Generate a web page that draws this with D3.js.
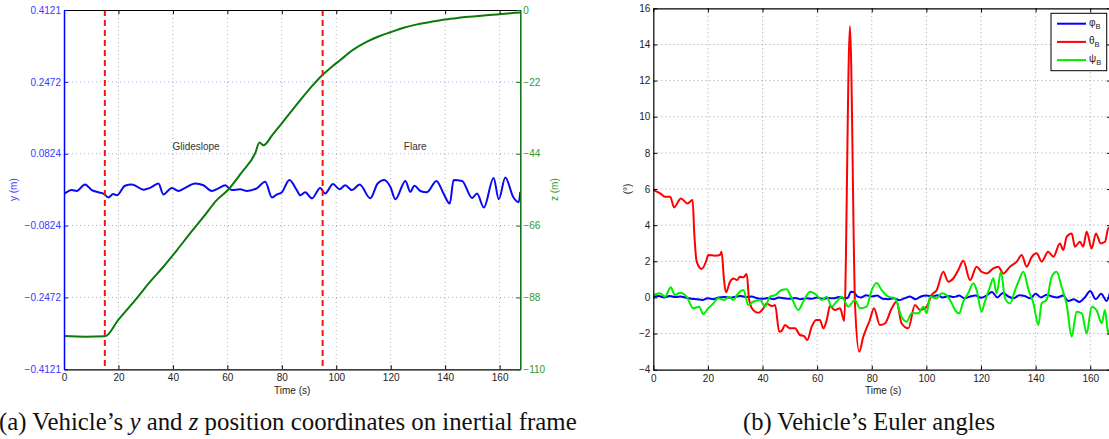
<!DOCTYPE html>
<html><head><meta charset="utf-8">
<script src="https://cdn.jsdelivr.net/npm/d3@7"></script>
<style>
body{margin:0;background:#fff;}
svg{display:block;font-family:"Liberation Sans",Arial,sans-serif;}
</style></head><body>
<svg id="chart" width="1109" height="439"></svg>
<script>
// ---- shared time ticks ----
const timeTicks = [0, 20, 40, 60, 80, 100, 120, 140, 160];

// ---- panel (a): lateral position y and altitude z ----
const yTickValues = [-0.4121, -0.2472, -0.0824, 0.0824, 0.2472, 0.4121];
const yTickLabels = ["\u22120.4121", "\u22120.2472", "\u22120.0824", "0.0824", "0.2472", "0.4121"];
const zTickValues = [0, -22, -44, -66, -88, -110];
const zTickLabels = ["0", "\u221222", "\u221244", "\u221266", "\u221288", "\u2212110"];
const phaseBounds = [15, 95];
const phaseNames = ["Glideslope", "Flare"];

const yTime = [0.4, 2.8, 4.7, 7.7, 10.2, 12.6, 14.5, 16.3, 18.1, 19.4, 22.4, 24.9, 29.2, 31.6, 34.7, 36.5, 39.6, 42, 44.5, 48.2, 51.2, 54.3, 56.7, 59.2, 61.6, 64.7, 67.2, 70.8, 73.9, 76.4, 78.2, 80, 82.8, 85.5, 86.8, 88.6, 91.1, 94.1, 95.9, 98.8, 101.2, 103.3, 105.8, 108.6, 112.5, 115.2, 117.6, 119.9, 121.7, 125.4, 127.2, 128.7, 130.9, 133.3, 136.8, 139.4, 141.7, 143.1, 146.2, 149.9, 151.7, 154.2, 157.8, 159.7, 162.1, 165, 167, 167.6];
const yPos = [-0.009, -0.001, -0.003, 0.012, -0.001, -0.006, -0.009, -0.018, -0.010, -0.013, 0.009, 0.012, 0.000, 0.004, 0.014, -0.011, 0.004, -0.003, 0.004, 0.014, 0.010, -0.003, 0.003, 0.010, -0.001, 0.001, -0.003, 0.003, 0.018, -0.018, -0.011, -0.006, 0.022, -0.001, -0.013, -0.006, -0.020, 0.004, -0.009, 0.013, 0.001, 0.010, -0.001, 0.012, -0.020, 0.014, 0.022, 0.006, -0.022, 0.020, -0.005, 0.009, -0.003, -0.006, 0.020, -0.009, -0.032, 0.022, 0.020, -0.019, -0.009, -0.041, 0.027, -0.022, 0.028, -0.017, -0.029, -0.005];

const zTime = [0, 8, 15.1, 20, 26.7, 31.5, 36.5, 41.5, 46.3, 51, 56.1, 60.1, 65, 70.2, 71.8, 73.3, 76.5, 80, 86.8, 91, 95.3, 98.5, 101.5, 106, 111.3, 115.5, 119.9, 124.5, 129.7, 135, 140, 145, 149.9, 155, 160, 164, 167.6];
const zPos = [-99.8, -100.0, -99.9, -94.8, -88.3, -83.3, -78.6, -73.5, -68.4, -63.6, -58.2, -55.2, -50.0, -43.9, -40.6, -41.4, -38.3, -34.7, -27.6, -23.4, -19.6, -17.3, -15.3, -12.3, -9.7, -8.1, -6.8, -5.5, -4.4, -3.6, -2.9, -2.4, -2.0, -1.6, -1.3, -1.0, -0.8];

// ---- panel (b): Euler angles in degrees ----
const eulerTicks = [-4, -2, 0, 2, 4, 6, 8, 10, 12, 14, 16];
const seriesNames = ["\u03c6", "\u03b8", "\u03c8"];

const phiTime = [0, 2, 4, 6, 8, 10, 12, 14, 16, 18, 20, 22, 24, 26, 28, 30, 32, 34, 36, 38, 40, 42, 44, 46, 48, 50, 52, 54, 56, 58, 60, 62, 64, 66, 68, 70, 71.2, 72.4, 73.4, 74.5, 76, 78, 80, 82, 84, 86, 88, 90, 92, 94, 96, 98, 100, 102, 104, 106, 108, 110, 112, 114, 116, 118, 120, 122, 124, 126, 128, 130, 132, 134, 136, 138, 140, 142, 144, 146, 148, 150, 152, 154, 156, 158, 160, 162, 164, 166, 167.6];
const phi = [0.05, 0.08, 0.0, 0.08, 0.02, 0.05, -0.02, -0.08, -0.1, -0.14, -0.05, -0.1, 0.0, 0.03, -0.02, 0.04, 0.08, 0.02, 0.05, -0.05, -0.08, -0.03, -0.1, 0.0, -0.05, -0.08, -0.03, -0.1, -0.05, -0.08, 0.0, -0.08, -0.03, -0.05, 0.02, -0.05, -0.02, 0.32, 0.3, 0.08, 0.0, 0.12, 0.05, 0.1, -0.08, -0.1, -0.05, -0.15, -0.05, 0.05, -0.1, 0.05, 0.1, 0.05, 0.12, 0.0, 0.08, 0.02, 0.1, -0.05, 0.05, 0.1, -0.02, 0.1, 0.3, 0.0, 0.25, 0.05, -0.05, 0.12, 0.08, -0.05, 0.2, 0.0, 0.15, 0.05, 0.0, 0.1, -0.2, -0.1, -0.25, 0.0, 0.35, -0.1, 0.2, -0.2, 0.55];

const thetaTime = [0, 2.5, 4.3, 6.2, 7.6, 10.1, 12.5, 14.4, 15.0, 15.9, 17.7, 19.5, 20.1, 22.6, 24.4, 25.0, 25.9, 26.6, 28.1, 29.3, 30.7, 31.7, 33, 34.2, 35.1, 36.6, 38.4, 40.3, 41.5, 43.4, 44.6, 46.1, 47, 48.2, 50.1, 51.9, 53.7, 55.2, 56.4, 58, 59.6, 61.0, 62.3, 63.5, 64.7, 66.5, 68.4, 69.9, 72.0, 73.9, 75.4, 76.9, 79.3, 80.8, 83, 84.9, 87.3, 89.1, 90.9, 93.4, 95.8, 97.7, 100.1, 101.9, 103.8, 106.2, 108, 109.9, 111.7, 113.5, 116, 118.4, 120.2, 122.1, 124.5, 126.3, 128.2, 130.6, 133.1, 134.9, 136.7, 138.6, 140.4, 142.2, 144.6, 146.5, 148.9, 150.1, 151.4, 153.2, 154.4, 156.2, 157.4, 158.7, 160.5, 162.1, 163.8, 165.4, 166.6, 167.6];
const theta = [5.94, 5.76, 5.57, 5.57, 4.98, 5.48, 5.2, 5.39, 3.55, 1.98, 1.57, 2.07, 2.35, 2.31, 2.35, 2.53, 0.96, 0.28, 0.87, 1.05, 0.96, 1.15, 1.11, 1.3, -0.14, -0.7, -0.85, -0.6, -0.33, -0.48, -0.42, -1.9, -1.85, -1.53, -1.71, -1.71, -2.08, -2.14, -2.36, -1.62, -1.25, -1.25, -1.71, -1.25, -0.48, -0.7, -0.6, -1.3, 15.0, -0.5, -3.0, -2.17, -1.25, -0.6, -1.53, -1.43, -0.6, -0.24, -1.43, -1.71, -0.42, -0.7, -0.51, 0.13, 0.41, 1.42, 0.87, 1.06, 1.52, 2.03, 0.96, 1.7, 1.42, 1.33, 1.61, 1.7, 1.33, 1.7, 1.98, 2.35, 1.7, 2.25, 2.44, 1.98, 2.53, 2.25, 2.99, 2.62, 3.36, 3.54, 2.81, 3.08, 2.81, 3.64, 2.71, 3.54, 2.99, 3.08, 3.82, 3.9];

const psiTime = [0, 2.4, 4.3, 6.4, 7.9, 9.8, 12.2, 14.6, 16.8, 18.3, 20.1, 22.0, 23.8, 25.9, 27.8, 29.3, 31.1, 33, 34.8, 36.6, 39.1, 40.9, 42.7, 44.6, 47.0, 48.8, 50.7, 53.1, 54.9, 57.4, 59.8, 61.7, 63.5, 65.3, 67.1, 69, 71.4, 73.8, 75.7, 78.1, 80, 81.8, 83.6, 86.1, 88.5, 90.9, 92.8, 94.6, 97.0, 98.9, 100.1, 101.3, 103.8, 105.6, 107.4, 109.3, 110.5, 112, 113.5, 115.3, 117.2, 118.4, 120.2, 121.4, 123.3, 124.5, 125.7, 127.3, 128.8, 130.6, 132.5, 133.7, 135.5, 137.4, 139.2, 141, 142.2, 144, 145.9, 147.7, 149.5, 151.4, 153.2, 155, 156.9, 158.7, 160.5, 162.3, 164.2, 165.4, 166.6, 167.6];
const psi = [0.13, 0.23, 0.04, 0.56, 0.13, 0.26, 0.04, -0.6, -0.51, -0.92, -0.6, -0.33, -0.05, -0.14, 0.04, -0.14, 0.23, 0.41, -0.42, -0.24, -0.14, -0.51, 0.04, 0.13, 0.41, 0.45, -0.05, -0.7, -0.24, 0.32, 0.13, -0.14, 0.04, -0.51, -0.24, 0.04, -0.51, -0.14, -0.6, -0.51, 0.41, 0.8, 0.41, 0.04, -0.05, -1.07, -1.34, -0.88, -0.88, -0.51, -0.88, 0.04, -0.05, 0.23, 0.13, -0.33, -0.7, -0.88, -0.24, 0.23, 0.78, 0.41, -0.79, -0.24, 0.59, 1.06, 0.23, 1.42, -0.05, -0.33, 0.41, 0.87, 1.42, 0.41, -0.33, -1.53, -0.33, -0.14, 1.15, 1.42, 0.59, -0.42, -2.17, -0.79, -0.88, -1.99, -0.51, -0.7, -1.43, -0.7, -1.99, -1.2];

const svg = d3.select("#chart");
const tickFont = 10;

// ================= panel (a) =================
const A = {left: 64, right: 520.3, top: 10, bottom: 369.3};
const xA = d3.scaleLinear().domain([0, 167.6]).range([A.left, A.right]);
const yA = d3.scaleLinear().domain([-0.4121, 0.4121]).range([A.bottom, A.top]);
const zA = d3.scaleLinear().domain([-110, 0]).range([A.bottom, A.top]);
const blueAxis = "#0000ff", blueText = "#3a3aff";
const greenAxis = "#0d6b0d", greenText = "#2f9a2f";

const gA = svg.append("g");
svg.append("defs").append("clipPath").attr("id", "clipA")
  .append("rect").attr("x", A.left).attr("y", A.top)
  .attr("width", A.right - A.left).attr("height", A.bottom - A.top);

// grid
gA.append("g").selectAll("line").data(timeTicks.filter(t => t > 0)).join("line")
  .attr("x1", d => xA(d)).attr("x2", d => xA(d)).attr("y1", A.top).attr("y2", A.bottom)
  .attr("stroke", "#9a9a9a").attr("stroke-width", 0.8).attr("stroke-dasharray", "1,3");
gA.append("g").selectAll("line").data(yTickValues.slice(1, -1)).join("line")
  .attr("x1", A.left).attr("x2", A.right).attr("y1", d => yA(d)).attr("y2", d => yA(d))
  .attr("stroke", "#8c8cf5").attr("stroke-width", 0.8).attr("stroke-dasharray", "1,3");

// series
const lineY = d3.line().x((d, i) => xA(yTime[i])).y(d => yA(d)).curve(d3.curveMonotoneX);
const lineZ = d3.line().x((d, i) => xA(zTime[i])).y(d => zA(d)).curve(d3.curveMonotoneX);
gA.append("path").attr("clip-path", "url(#clipA)").datum(yPos).attr("d", lineY)
  .attr("fill", "none").attr("stroke", "#0a0af0").attr("stroke-width", 2);
gA.append("path").attr("clip-path", "url(#clipA)").datum(zPos).attr("d", lineZ)
  .attr("fill", "none").attr("stroke", "#0b7a0b").attr("stroke-width", 2);

// phase boundaries
gA.append("g").selectAll("line").data(phaseBounds).join("line")
  .attr("x1", d => xA(d)).attr("x2", d => xA(d)).attr("y1", A.top).attr("y2", A.bottom)
  .attr("stroke", "#ff1010").attr("stroke-width", 2).attr("stroke-dasharray", "6,4");

// phase names
gA.append("g").selectAll("text").data(phaseNames).join("text")
  .attr("x", (d, i) => xA(i === 0 ? 48.5 : 129))
  .attr("y", yA(0.0907))
  .attr("text-anchor", "middle").attr("font-size", 10).attr("fill", "#333")
  .text(d => d);

// axes
const axAb = d3.axisBottom(xA).tickValues(timeTicks).tickFormat(d3.format("d")).tickSizeInner(-4).tickSizeOuter(0).tickPadding(5);
const gAb = gA.append("g").attr("transform", `translate(0,${A.bottom})`).call(axAb);
const axAt = d3.axisTop(xA).tickValues(timeTicks).tickFormat("").tickSizeInner(-4).tickSizeOuter(0);
const gAt = gA.append("g").attr("transform", `translate(0,${A.top})`).call(axAt);
[gAb, gAt].forEach(g => {
  g.select(".domain").attr("stroke", "#000").attr("stroke-width", 1.2);
  g.selectAll(".tick line").attr("stroke", "#000");
  g.selectAll("text").attr("fill", "#222").attr("font-size", tickFont).attr("font-family", "Liberation Sans, Arial, sans-serif");
});
const axAl = d3.axisLeft(yA).tickValues(yTickValues).tickFormat((d, i) => yTickLabels[i]).tickSizeInner(-4).tickSizeOuter(0).tickPadding(3);
const gAl = gA.append("g").attr("transform", `translate(${A.left},0)`).call(axAl);
gAl.select(".domain").attr("stroke", blueAxis).attr("stroke-width", 1.5);
gAl.selectAll(".tick line").attr("stroke", blueAxis);
gAl.selectAll("text").attr("fill", blueText).attr("font-size", tickFont).attr("font-family", "Liberation Sans, Arial, sans-serif");
const axAr = d3.axisRight(zA).tickValues(zTickValues).tickFormat((d, i) => zTickLabels[i]).tickSizeInner(-4).tickSizeOuter(0).tickPadding(3);
const gAr = gA.append("g").attr("transform", `translate(${A.right},0)`).call(axAr);
gAr.select(".domain").attr("stroke", greenAxis).attr("stroke-width", 1.5);
gAr.selectAll(".tick line").attr("stroke", greenAxis);
gAr.selectAll("text").attr("fill", greenText).attr("font-size", tickFont).attr("font-family", "Liberation Sans, Arial, sans-serif");

// axis titles
gA.append("text").attr("transform", `translate(17,${(A.top + A.bottom) / 2}) rotate(-90)`)
  .attr("text-anchor", "middle").attr("font-size", 10).attr("fill", blueText).text("y (m)");
gA.append("text").attr("transform", `translate(558,${(A.top + A.bottom) / 2}) rotate(-90)`)
  .attr("text-anchor", "middle").attr("font-size", 10).attr("fill", greenText).text("z (m)");
gA.append("text").attr("x", (A.left + A.right) / 2).attr("y", 394)
  .attr("text-anchor", "middle").attr("font-size", 10).attr("fill", "#222").text("Time (s)");

// ================= panel (b) =================
const B = {left: 653.3, right: 1111, top: 8.3, bottom: 369.7};
const xB = d3.scaleLinear().domain([0, 167.6]).range([B.left, B.right]);
const yB = d3.scaleLinear().domain([-4, 16]).range([B.bottom, B.top]);
const gB = svg.append("g");
svg.select("defs").append("clipPath").attr("id", "clipB")
  .append("rect").attr("x", B.left).attr("y", B.top)
  .attr("width", B.right - B.left).attr("height", B.bottom - B.top);

gB.append("g").selectAll("line").data(timeTicks.filter(t => t > 0)).join("line")
  .attr("x1", d => xB(d)).attr("x2", d => xB(d)).attr("y1", B.top).attr("y2", B.bottom)
  .attr("stroke", "#8a8a8a").attr("stroke-width", 0.8).attr("stroke-dasharray", "1,3");
gB.append("g").selectAll("line").data(eulerTicks.slice(1, -1)).join("line")
  .attr("x1", B.left).attr("x2", B.right).attr("y1", d => yB(d)).attr("y2", d => yB(d))
  .attr("stroke", "#8a8a8a").attr("stroke-width", 0.8).attr("stroke-dasharray", "1,3");

const eulerSeries = [
  {t: phiTime, v: phi, color: "#0000ff"},
  {t: thetaTime, v: theta, color: "#ff0000"},
  {t: psiTime, v: psi, color: "#00ee00"}
];
eulerSeries.forEach(s => {
  const ln = d3.line().x((d, i) => xB(s.t[i])).y(d => yB(d)).curve(d3.curveMonotoneX);
  gB.append("path").attr("clip-path", "url(#clipB)").datum(s.v).attr("d", ln)
    .attr("fill", "none").attr("stroke", s.color).attr("stroke-width", 2);
});

const axBb = d3.axisBottom(xB).tickValues(timeTicks).tickFormat(d3.format("d")).tickSizeInner(-4).tickSizeOuter(0).tickPadding(5);
const gBb = gB.append("g").attr("transform", `translate(0,${B.bottom})`).call(axBb);
const axBt = d3.axisTop(xB).tickValues(timeTicks).tickFormat("").tickSizeInner(-4).tickSizeOuter(0);
const gBt = gB.append("g").attr("transform", `translate(0,${B.top})`).call(axBt);
const axBl = d3.axisLeft(yB).tickValues(eulerTicks).tickFormat(d => d < 0 ? "\u2212" + Math.abs(d) : d).tickSizeInner(-4).tickSizeOuter(0).tickPadding(3);
const gBl = gB.append("g").attr("transform", `translate(${B.left},0)`).call(axBl);
const axBr = d3.axisRight(yB).tickValues(eulerTicks).tickFormat("").tickSizeInner(-4).tickSizeOuter(0);
const gBr = gB.append("g").attr("transform", `translate(${B.right},0)`).call(axBr);
[gBb, gBt, gBl, gBr].forEach(g => {
  g.select(".domain").attr("stroke", "#000").attr("stroke-width", 1.2);
  g.selectAll(".tick line").attr("stroke", "#000");
  g.selectAll("text").attr("fill", "#222").attr("font-size", tickFont).attr("font-family", "Liberation Sans, Arial, sans-serif");
});

gB.append("text").attr("transform", `translate(631,${(B.top + B.bottom) / 2}) rotate(-90)`)
  .attr("text-anchor", "middle").attr("font-size", 10).attr("fill", "#222").text("(\u00b0)");
gB.append("text").attr("x", (B.left + B.right) / 2 + 1).attr("y", 394)
  .attr("text-anchor", "middle").attr("font-size", 10).attr("fill", "#222").text("Time (s)");

// legend
const leg = gB.append("g");
leg.append("rect").attr("x", 1051).attr("y", 13.3).attr("width", 55.7).attr("height", 57.4)
  .attr("fill", "#fff").attr("stroke", "#000").attr("stroke-width", 1);
eulerSeries.forEach((s, i) => {
  const cy = 23.7 + i * 18.2;
  leg.append("line").attr("x1", 1057).attr("x2", 1086).attr("y1", cy).attr("y2", cy)
    .attr("stroke", s.color).attr("stroke-width", 2);
  const t = leg.append("text").attr("x", 1089).attr("y", cy + 2).attr("font-size", 10).attr("fill", "#222");
  t.append("tspan").text(seriesNames[i]);
  t.append("tspan").attr("dy", 3).attr("font-size", 7.5).text("B");
});

// ================= captions =================
// font size is scaled so the line spans the given width
function caption(parts, x0, width) {
  const base = 20;
  const t = svg.append("text").attr("x", x0).attr("y", 430)
    .attr("font-family", "'Liberation Serif','DejaVu Serif',serif").attr("font-size", base).attr("fill", "#111");
  parts.forEach(p => t.append("tspan").attr("font-style", p.i ? "italic" : "normal").text(p.s));
  const w = t.node().getComputedTextLength();
  t.attr("font-size", base * width / w);
}
caption([{s: "(a) Vehicle\u2019s "}, {s: "y", i: 1}, {s: " and "}, {s: "z", i: 1}, {s: " position coordinates on inertial frame"}], -1, 578);
caption([{s: "(b) Vehicle\u2019s Euler angles"}], 743, 252);
</script>
</body></html>
